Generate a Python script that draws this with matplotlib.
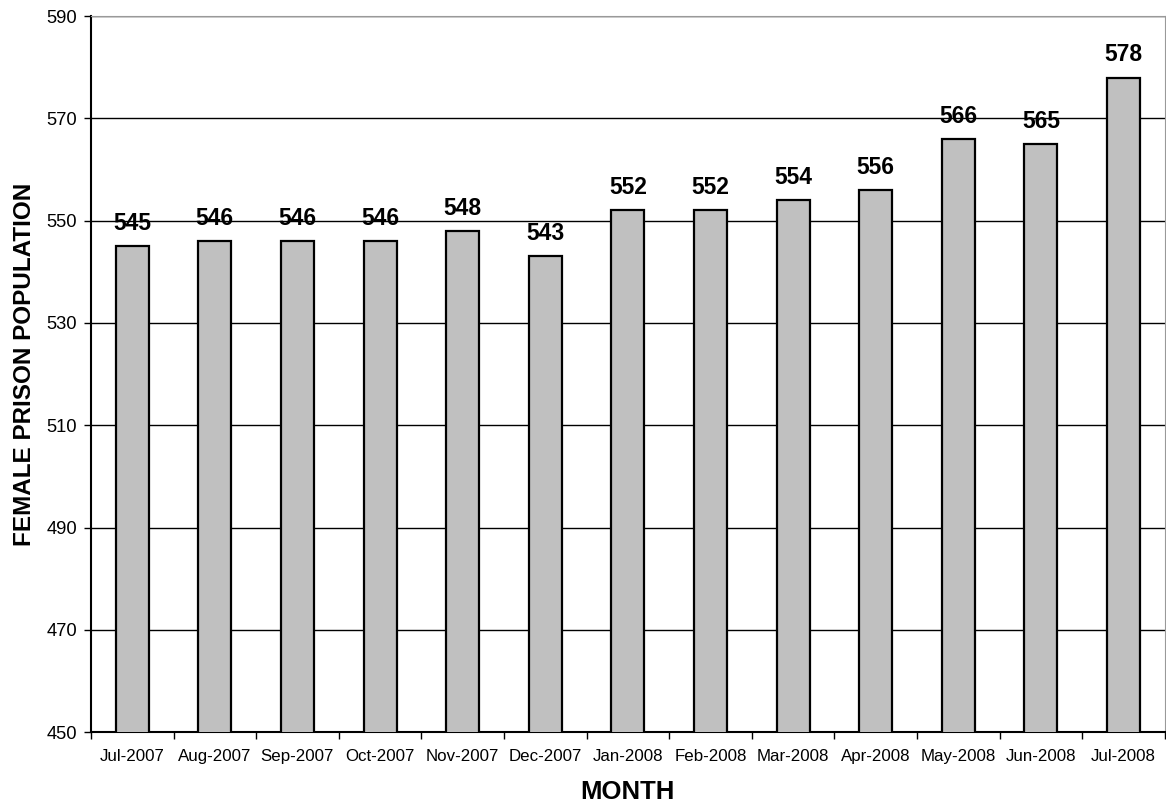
import matplotlib
matplotlib.use("Agg")
from matplotlib import pyplot as plt
import numpy as np

plt.rcParams['font.family'] = ['Liberation Sans', 'DejaVu Sans']

months = ['Jul-2007', 'Aug-2007', 'Sep-2007', 'Oct-2007', 'Nov-2007', 'Dec-2007',
          'Jan-2008', 'Feb-2008', 'Mar-2008', 'Apr-2008', 'May-2008', 'Jun-2008',
          'Jul-2008']
population = [545, 546, 546, 546, 548, 543, 552, 552, 554, 556, 566, 565, 578]
yticks = [450, 470, 490, 510, 530, 550, 570, 590]

fig = plt.figure(figsize=(11.66, 8.08), dpi=100)
ax = fig.add_axes([0.078, 0.094, 0.921, 0.886])

x = np.arange(len(months))
ax.bar(x, population, width=0.4, color='#c0c0c0',
       edgecolor='black', linewidth=1.6, zorder=3)

for xi, v in zip(x, population):
    ax.annotate(str(v), (xi, v), xytext=(0, 8), textcoords='offset points',
                ha='center', va='bottom', fontsize=16.5, fontweight='bold')

ax.set_xlim(-0.5, len(months) - 0.5)
ax.set_ylim(450, 590)
ax.set_yticks(yticks)
ax.yaxis.grid(True, color='black', linewidth=1.0, zorder=0)

# category labels centred on bars, tick marks between categories
ax.set_xticks(x)
ax.set_xticklabels(months, fontsize=12.2)
ax.set_xticks(np.arange(len(months) + 1) - 0.5, minor=True)
ax.tick_params(axis='x', which='major', length=0, pad=12)
ax.tick_params(axis='x', which='minor', length=5, width=1, direction='out')
ax.tick_params(axis='y', length=5, width=1, direction='out', labelsize=13.2, pad=5)

ax.spines['left'].set_linewidth(1.5)
ax.spines['bottom'].set_linewidth(1.5)
ax.spines['top'].set_color('#999999')
ax.spines['right'].set_color('#999999')

ax.set_xlabel('MONTH', fontsize=18.5, fontweight='bold', labelpad=12)
ax.set_ylabel('FEMALE PRISON POPULATION', fontsize=17.5, fontweight='bold')
ax.yaxis.set_label_coords(-0.051, 0.513)

fig.savefig('out.png', dpi=100)
